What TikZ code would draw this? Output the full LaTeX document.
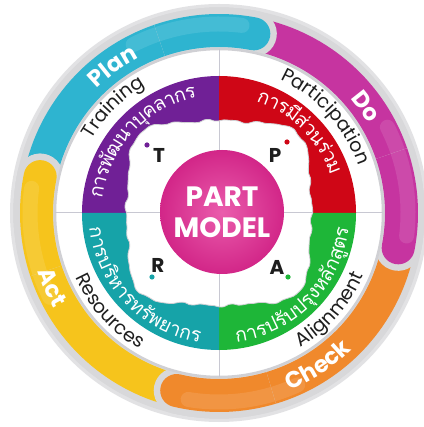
\documentclass[tikz,border=0pt]{standalone}
\usepackage{fontspec}
\setmainfont{Poppins}
\newfontfamily\thaifont[Script=Thai]{Loma}
\definecolor{cyanP}{RGB}{46,180,208}
\definecolor{magP}{RGB}{198,52,160}
\definecolor{orgP}{RGB}{240,137,44}
\definecolor{yelP}{RGB}{246,196,28}
\definecolor{purP}{RGB}{112,32,150}
\definecolor{redP}{RGB}{207,6,22}
\definecolor{grnP}{RGB}{30,182,56}
\definecolor{tealP}{RGB}{22,163,168}
\definecolor{ringgrey}{RGB}{226,226,228}
\definecolor{pborder}{RGB}{216,216,218}
\definecolor{edgegrey}{RGB}{208,208,212}
\definecolor{divgrey}{RGB}{200,200,210}
\definecolor{txt}{RGB}{30,30,30}
\definecolor{pinkin}{RGB}{234,92,172}
\definecolor{pinkout}{RGB}{210,38,136}
\def\arcsq{1}
\newcommand\arcmeasure[1]{\pgfinterruptpicture\global\setbox1=\hbox{#1}\endpgfinterruptpicture\pgfmathsetmacro\wnum{\the\wd1*\arcsq}}
\newcommand\arctext[5]{%
  \gdef\arctotal{0}%
  \foreach \ch in {#5}{%
    \arcmeasure{#4\ch}%
    \pgfmathsetmacro\arctmp{\arctotal+\wnum}%
    \xdef\arctotal{\arctmp}%
  }%
  \pgfmathsetmacro\arctmp{#2+(#3)*deg(\arctotal/#1)/2}%
  \xdef\arccur{\arctmp}%
  \foreach \ch in {#5}{%
    \arcmeasure{#4\ch}%
    \pgfmathsetmacro\arcang{\arccur-(#3)*deg(\wnum/#1)/2}%
    \pgfmathsetmacro\arcrot{\arcang-(#3)*90}%
    \node[anchor=base,rotate=\arcrot,inner sep=0pt,outer sep=0pt] at (\arcang:#1) {#4\ch};%
    \pgfmathsetmacro\arctmp{\arccur-(#3)*deg(\wnum/#1)}%
    \xdef\arccur{\arctmp}%
  }%
}
\newcommand\petal[3]{%
  \draw[line width=46pt,draw=pborder,line cap=round] (#2:182.5) arc[start angle=#2,end angle=#3,radius=182.5];
  \draw[line width=33pt,draw=#1,line cap=round] (#2:182.5) arc[start angle=#2,end angle=#3,radius=182.5];
  \draw[line width=15pt,draw=white,draw opacity=0.11,line cap=round] (#3+38:189) arc[start angle=#3+38,end angle=#3+4,radius=189];
}
\newcommand\petalend[3]{%
  \begin{scope}
    \clip (0,0) -- (#3-15:235) arc[start angle=#3-15,end angle=#3+30,radius=235] -- cycle;
    \petal{#1}{#2}{#3}
  \end{scope}
}
\newcommand\squirclepath{plot[smooth cycle,samples=120,domain=0:357] (\x:{93+19*pow(sin(2*\x),4)+0.9*sin(23*\x)+0.6*cos(37*\x)})}
\newcommand\engf{\fontsize{19}{19}\selectfont\color{txt}}
\newcommand\thf{\thaifont\fontsize{19.5}{19.5}\selectfont\color{white}}
\newcommand\pf{\fontsize{23}{23}\selectfont\bfseries\color{white}}
\begin{document}
\begin{tikzpicture}[x=1pt,y=1pt]
\useasboundingbox (-219,-214) rectangle (204,213);
\fill[white] (-219,-214) rectangle (204,213);
% outer grey ring
\fill[ringgrey] (0,0) circle[radius=209];
% petals
\petal{cyanP}{185}{79}
\petal{magP}{95}{-11}
\petal{orgP}{8}{-103.4}
\petal{yelP}{-87}{-191.5}
\petalend{cyanP}{185}{79}
\petalend{magP}{95}{-11}
\petalend{orgP}{8}{-103.4}
\petalend{yelP}{-87}{-191.5}
% white ring
\filldraw[fill=white,draw=edgegrey,line width=2.5pt] (0,0) circle[radius=164];
\coordinate (c) at (0,0);
\coordinate (t) at (0,164);
\coordinate (b) at (0,-164);
\coordinate (l) at (-164,0);
\coordinate (r) at (164,0);
\draw[divgrey,line width=1pt] (t) -- (b);
\draw[divgrey,line width=1pt] (l) -- (r);
% coloured band
\fill[purP] (c) -- (90:137) arc[start angle=90,end angle=180,radius=137] -- cycle;
\fill[redP] (c) -- (0:137) arc[start angle=0,end angle=90,radius=137] -- cycle;
\fill[grnP] (c) -- (-90:137) arc[start angle=-90,end angle=0,radius=137] -- cycle;
\fill[tealP] (c) -- (180:137) arc[start angle=180,end angle=270,radius=137] -- cycle;
% inner white
\path[fill=white,draw=edgegrey,line width=0.8pt] \squirclepath;
\begin{scope}
  \clip \squirclepath;
  \draw[divgrey,line width=1pt] (t) -- (b);
  \draw[divgrey,line width=1pt] (l) -- (r);
\end{scope}
% centre
\shade[inner color=pinkin,outer color=pinkout] (3,1) circle[radius=62];
\node[text=white,font=\fontsize{28}{28}\selectfont\bfseries] (part) at (3,16) {PART};
\node[text=white,font=\fontsize{28}{28}\selectfont\bfseries] (model) at (3,-15) {MODEL};
% letters and dots
\node[text=txt,font=\fontsize{20}{20}\selectfont\bfseries] (T) at (-60,58) {T};
\node[text=txt,font=\fontsize{20}{20}\selectfont\bfseries] (P) at (56,58) {P};
\node[text=txt,font=\fontsize{20}{20}\selectfont\bfseries] (R) at (-61,-52) {R};
\node[text=txt,font=\fontsize{20}{20}\selectfont\bfseries] (A) at (58,-54) {A};
\fill[purP] (-72,68) circle[radius=2.6];
\fill[redP] (68,71) circle[radius=2.6];
\fill[tealP] (-67,-64) circle[radius=2.6];
\fill[grnP] (69,-64) circle[radius=2.6];
% petal labels
\arctext{174.5}{126}{1}{\pf}{P,l,a,n}
\arctext{174.5}{36}{1}{\pf}{D,o}
\arctext{191}{-57}{-1}{\pf}{C,h,e,c,k}
\arctext{191}{204}{-1}{\pf}{A,c,t}
% english labels
\arctext{147}{135}{1}{\engf}{T,r,a,i,n,i,n,g}
\arctext{147}{42}{1}{\engf}{P,a,r,t,i,c,i,p,a,t,i,o,n}
\arctext{157.5}{222}{-1}{\engf}{R,e,s,o,u,r,c,e,s}
\arctext{157.5}{-41}{-1}{\engf}{A,l,i,g,n,m,e,n,t}
% thai labels
\def\arcsq{0.93}
\arctext{117.5}{137}{1}{\thf}{ก,า,ร,พั,ฒ,น,า,บุ,ค,ล,า,ก,ร}
\arctext{117.5}{45}{1}{\thf}{ก,า,ร,มี,ส่,ว,น,ร่,ว,ม}
\def\arcsq{1}
\arctext{130.5}{224}{-1}{\thf}{ก,า,ร,บ,ริ,ห,า,ร,ท,รั,พ,ย,า,ก,ร}
\arctext{130.5}{315.5}{-1}{\thf}{ก,า,ร,ป,รั,บ,ป,รุ,ง,ห,ลั,ก,สู,ต,ร}
\end{tikzpicture}
\end{document}
